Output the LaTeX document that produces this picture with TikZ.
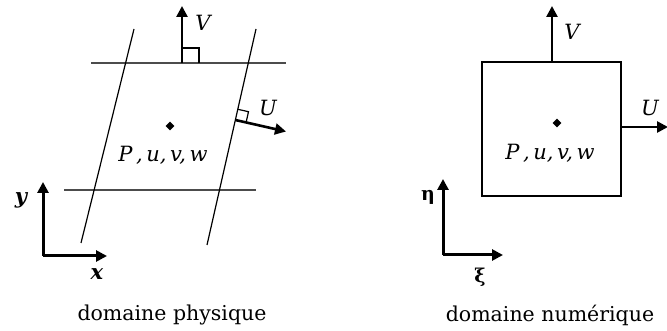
\documentclass[tikz,border=0pt]{standalone}
\usepackage{fontspec}
\setmainfont{DejaVu Serif}
\usetikzlibrary{arrows.meta,calc,shapes.geometric}
\begin{document}
\begin{tikzpicture}[x=1pt,y=-1pt,
  gridline/.style={line width=1.3pt,draw=black!70},
  slant/.style={line width=1.2pt},
  vec/.style={line width=2.6pt,-{Triangle[length=11pt,width=11pt]}},
  axis/.style={line width=3pt,-{Triangle[length=11pt,width=11pt]}},
  lbl/.style={inner sep=0pt,font=\fontsize{21}{23}\selectfont\itshape},
  bvar/.style={inner sep=0pt,font=\fontsize{21}{23}\selectfont\bfseries\itshape},
  greek/.style={inner sep=0pt,font=\fontsize{19}{21}\selectfont\bfseries},
  captxt/.style={inner sep=0pt,font=\fontsize{20.5}{22}\selectfont},
  rbox/.style={line width=1.2pt}]
\useasboundingbox (0,0) rectangle (667,331);
% ---------- physical domain
\coordinate (t1) at (91,63); \coordinate (t2) at (286,63);
\coordinate (b1) at (64,190); \coordinate (b2) at (256,190);
\coordinate (l1) at (134,29); \coordinate (l2) at (81,243);
\coordinate (r1) at (256,29); \coordinate (r2) at (207,245);
\draw[gridline] (t1) -- (t2);
\draw[gridline] (b1) -- (b2);
\draw[slant] (l1) -- (l2);
\draw[slant] (r1) -- (r2);
% V
\coordinate (vf) at (182,63); \coordinate (vt) at (182,6);
\draw[vec] (vf) -- (vt);
\draw[rbox] (182,48) -- (199,48) -- (199,63);
\node[lbl] (vl) at (203,23) {V};
% U
\coordinate (uf) at (235.4,120); \coordinate (ut) at (286,131.5);
\draw[vec] (uf) -- (ut);
\draw[rbox] ($(uf)+(10.7,2.4)$) -- ++(2.4,-10.7) -- ++(-10.7,-2.4);
\node[lbl] (ul) at (268,108) {U};
% centre
\node[fill,diamond,inner sep=0pt,minimum size=9pt] (pd) at (170,126) {};
\node[lbl] (pl) at (163,155) {P\,,\,u,\,v,\,w};
% axes
\coordinate (o1) at (43,256);
\coordinate (ya) at (43,182); \coordinate (xa) at (107,256);
\draw[axis] (o1) -- (ya);
\draw[axis] (o1) -- (xa);
\node[bvar] (yl) at (21,200) {y};
\node[bvar] (xl) at (97,274) {x};
\node[captxt] (c1) at (172,315) {domaine physique};
% ---------- numerical domain
\node[draw,line width=1.3pt,minimum width=139pt,minimum height=134pt,inner sep=0pt] (sq) at (551.5,129) {};
\coordinate (vt2) at (552,6);
\draw[vec] (sq.north -| vt2) -- (vt2);
\node[lbl] (vl2) at (572,32) {V};
\coordinate (ut2) at (668,127);
\draw[vec] (sq.east |- ut2) -- (ut2);
\node[lbl] (ul2) at (650,108) {U};
\node[fill,diamond,inner sep=0pt,minimum size=9pt] (pd2) at (557,123) {};
\node[lbl] (pl2) at (550,153) {P\,,\,u,\,v,\,w};
\coordinate (o2) at (443,255);
\coordinate (ea) at (443,179); \coordinate (xia) at (503,255);
\draw[axis] (o2) -- (ea);
\draw[axis] (o2) -- (xia);
\node[greek] (el) at (428,197) {η};
\node[greek] (xil) at (480,277) {ξ};
\node[captxt] (c2) at (550,315) {domaine numérique};
\end{tikzpicture}
\end{document}
